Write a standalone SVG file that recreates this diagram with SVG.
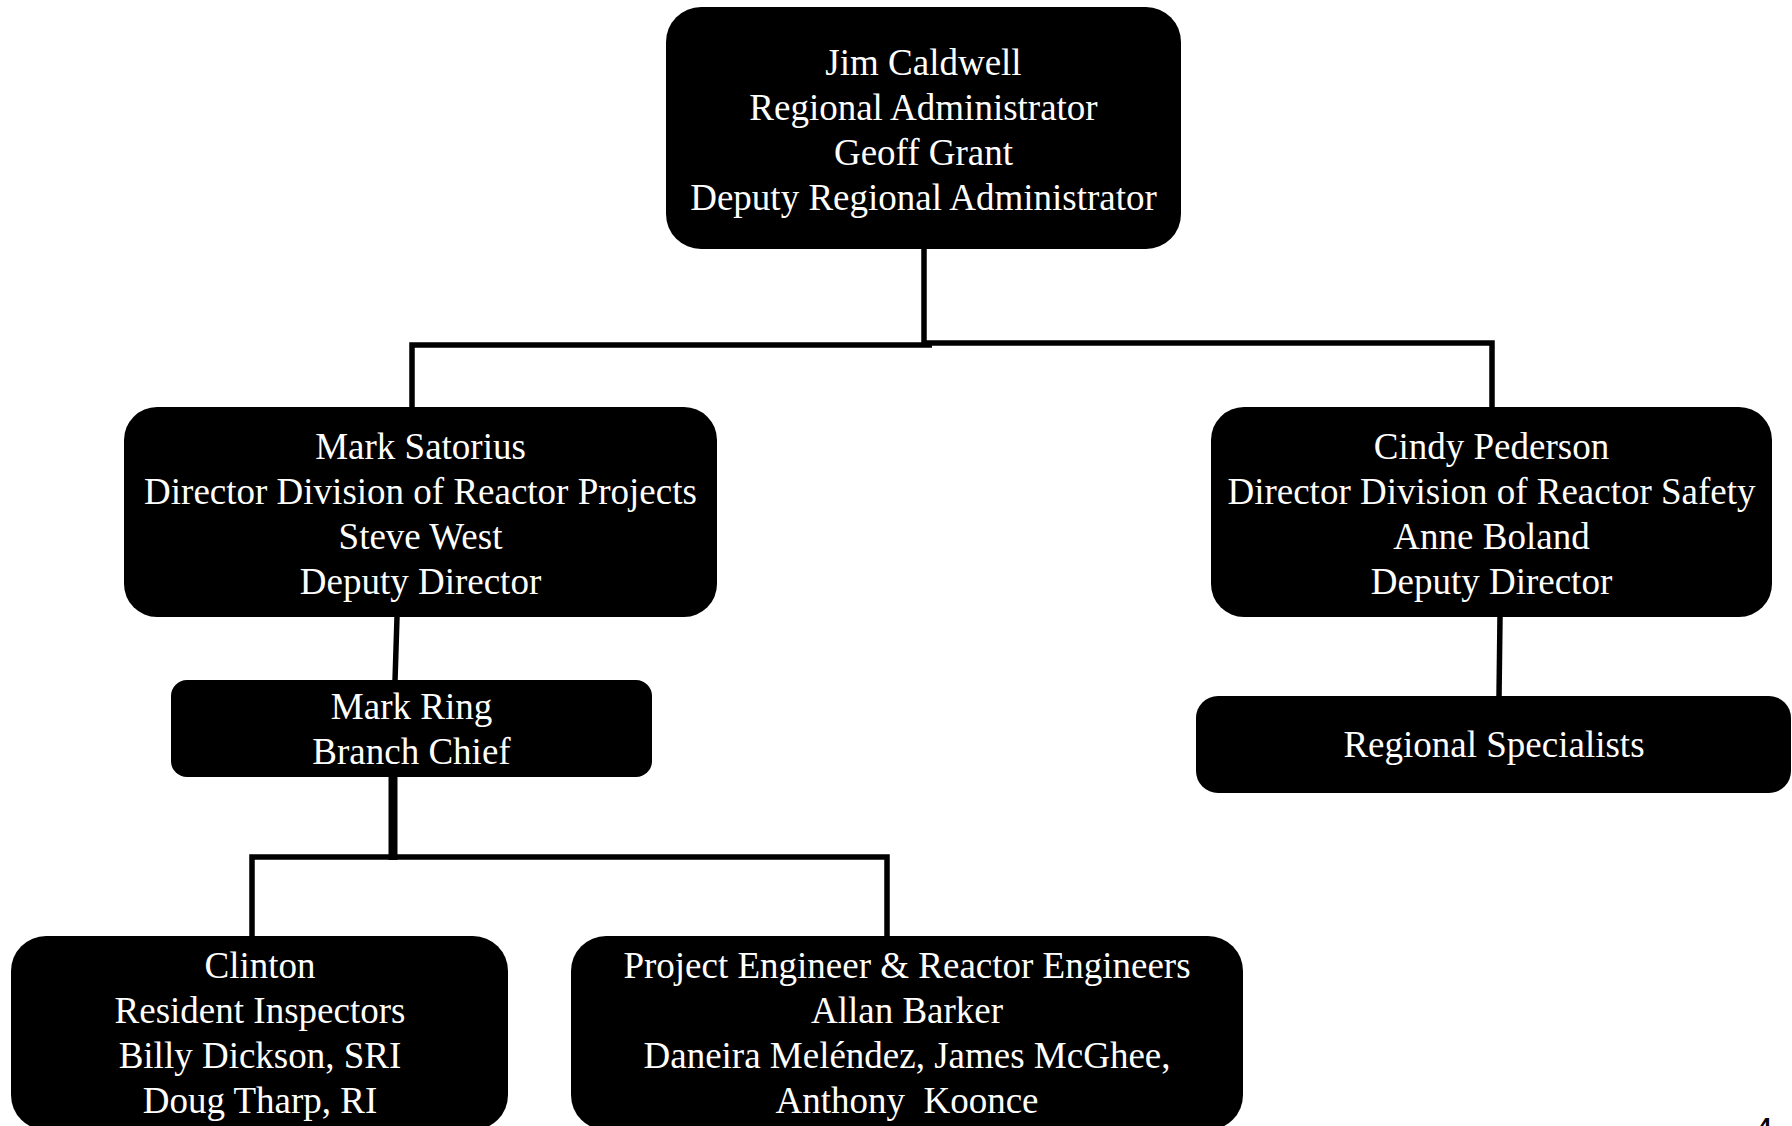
<svg xmlns="http://www.w3.org/2000/svg" width="1792" height="1126" viewBox="0 0 1792 1126">
<style>
.box{fill:#000;}
.t{font-family:"Liberation Serif","Times New Roman",serif;font-size:37px;fill:#fff;text-anchor:middle;white-space:pre;}
.c{fill:none;stroke:#000;stroke-width:5.5;stroke-linejoin:miter;stroke-linecap:butt;}
</style>
<rect width="1792" height="1126" fill="#fff"/>
<g id="connectors">
<path class="c" d="M924,249 V345"/>
<path class="c" d="M932,345 H412 V408"/>
<path class="c" d="M924,343 H1492 V408"/>
<path class="c" d="M397,617 L395,681"/>
<path class="c" d="M1500,617 L1499,697"/>
<path class="c" style="stroke-width:9" d="M393,777 V860"/>
<path class="c" d="M393,857 H252 V937"/>
<path class="c" d="M393,857 H887 V937"/>
</g>
<g id="n-caldwell">
<rect class="box" x="666" y="7" width="515" height="242" rx="35"/>
<text class="t" x="923.5" y="75">Jim Caldwell</text>
<text class="t" x="923.5" y="120">Regional Administrator</text>
<text class="t" x="923.5" y="165">Geoff Grant</text>
<text class="t" x="923.5" y="210">Deputy Regional Administrator</text>
</g>
<g id="n-satorius">
<rect class="box" x="124" y="407" width="593" height="210" rx="33"/>
<text class="t" x="420.5" y="459">Mark Satorius</text>
<text class="t" x="420.5" y="504">Director Division of Reactor Projects</text>
<text class="t" x="420.5" y="549">Steve West</text>
<text class="t" x="420.5" y="594">Deputy Director</text>
</g>
<g id="n-pederson">
<rect class="box" x="1211" y="407" width="561" height="210" rx="33"/>
<text class="t" x="1491.5" y="459">Cindy Pederson</text>
<text class="t" x="1491.5" y="504">Director Division of Reactor Safety</text>
<text class="t" x="1491.5" y="549">Anne Boland</text>
<text class="t" x="1491.5" y="594">Deputy Director</text>
</g>
<g id="n-ring">
<rect class="box" x="171" y="680" width="481" height="97" rx="16"/>
<text class="t" x="411.5" y="719">Mark Ring</text>
<text class="t" x="411.5" y="764">Branch Chief</text>
</g>
<g id="n-specialists">
<rect class="box" x="1196" y="696" width="595" height="97" rx="22"/>
<text class="t" x="1494" y="757">Regional Specialists</text>
</g>
<g id="n-clinton">
<rect class="box" x="11" y="936" width="497" height="194" rx="35"/>
<text class="t" x="260" y="978">Clinton</text>
<text class="t" x="260" y="1023">Resident Inspectors</text>
<text class="t" x="260" y="1068">Billy Dickson, SRI</text>
<text class="t" x="260" y="1113">Doug Tharp, RI</text>
</g>
<g id="n-engineers">
<rect class="box" x="571" y="936" width="672" height="194" rx="35"/>
<text class="t" x="907" y="978">Project Engineer &amp; Reactor Engineers</text>
<text class="t" x="907" y="1023">Allan Barker</text>
<text class="t" x="907" y="1068">Daneira Meléndez, James McGhee,</text>
<text class="t" x="907" y="1113">Anthony  Koonce</text>
</g>
<text x="1758" y="1135" style="font-family:'Liberation Sans',Arial,sans-serif;font-size:24px;font-weight:bold;fill:#000;">4</text>
</svg>
